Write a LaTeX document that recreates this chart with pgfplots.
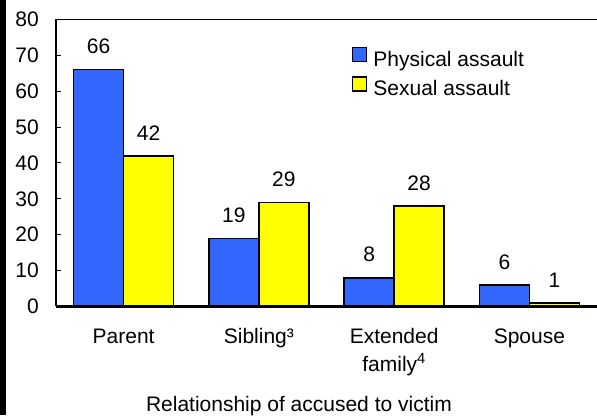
\documentclass[border=0pt]{standalone}
\usepackage{fontspec}
\setmainfont{Liberation Sans}
\usepackage{pgfplots}
\pgfplotsset{compat=1.18}
\definecolor{barblue}{HTML}{3366FF}
\definecolor{baryellow}{HTML}{FFFF00}
\newcommand\cf{\fontsize{21}{27.5}\selectfont}
\pgfplotsset{sqlegend/.style={legend image code/.code={\draw[##1, line width=1.5pt] (0pt,-0.5pt) rectangle (14pt,13.5pt);}}}
\begin{document}
\begin{tikzpicture}
\useasboundingbox (0,0) rectangle (597pt,415pt);
\fill[black] (0,0) rectangle (6pt,415pt);
\begin{axis}[
  at={(56pt,108.5pt)}, anchor=south west,
  scale only axis, width=541pt, height=287pt,
  ybar=0pt, bar width=50pt,
  xmin=-0.5, xmax=3.5, ymin=0, ymax=80,
  axis x line*=bottom, axis y line*=left,
  axis on top,
  x axis line style={-, line width=3.5pt},
  y axis line style={-, line width=1.5pt},
  xtick={0,1,2,3},
  xticklabels={Parent, Sibling³, {Extended\\family\textsuperscript{4}}, Spouse},
  xtick style={draw=none},
  xticklabel style={font=\cf, align=center, anchor=north, inner sep=0pt, yshift=-22pt},
  ytick={0,10,...,80},
  tick align=inside,
  major tick length=5pt,
  ytick style={line width=1pt, black},
  yticklabel style={font=\cf, anchor=east, inner sep=0pt, xshift=-17pt},
  /pgf/number format/assume math mode=true,
  xlabel={Relationship of accused to victim},
  xlabel style={at={(rel axis cs:0.449,0)}, anchor=base, yshift=-104.5pt, font=\cf, inner sep=0pt},
  nodes near coords,
  every node near coord/.append style={font=\cf, anchor=south, inner sep=0pt, yshift=15pt, black},
  legend style={draw=none, fill=none, at={(rel axis cs:0.547,0.905)}, anchor=north west,
    inner sep=0pt, outer sep=0pt, row sep=5pt, column sep=6pt, font=\cf,
    nodes={inner sep=0pt, text height=15pt, text depth=5pt}},
  legend cell align=left,
]
\addplot[fill=barblue, draw=black, line width=1.5pt, sqlegend] coordinates {(0,66) (1,19) (2,8) (3,6)};
\addplot[fill=baryellow, draw=black, line width=1.5pt, sqlegend] coordinates {(0,42) (1,29) (2,28) (3,1)};
\legend{Physical assault, Sexual assault}
\draw[line width=1.5pt] (rel axis cs:0,1) -- (rel axis cs:1,1);
\end{axis}
\end{tikzpicture}
\end{document}
